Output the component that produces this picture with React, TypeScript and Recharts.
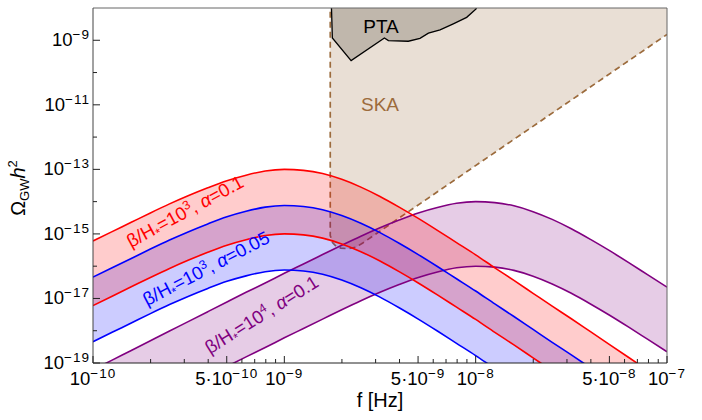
import React from 'react';
import { Area, ComposedChart, Line, ReferenceLine, XAxis, YAxis } from 'recharts';

const WIDTH = 702;
const HEIGHT = 420;
const FONT = '"Liberation Sans", Arial, Helvetica, sans-serif';

// frequency grid, log10(f / Hz)
const logFreq = [
  -10, -9.9, -9.8, -9.7, -9.6, -9.5, -9.4, -9.3, -9.2, -9.1, -9, -8.9, -8.8, -8.7, -8.6, -8.5,
  -8.4, -8.3, -8.2, -8.1, -8, -7.9, -7.8, -7.7, -7.6, -7.5, -7.4, -7.3, -7.2, -7.1, -7,
];

// log10(Omega_GW h^2), one value per logFreq entry
const redUpper = [
  -15.22, -14.93, -14.64, -14.35, -14.07, -13.81, -13.57, -13.35, -13.18, -13.05, -13.0, -13.03,
  -13.13, -13.31, -13.55, -13.84, -14.17, -14.52, -14.89, -15.27, -15.65, -16.05, -16.44, -16.84,
  -17.24, -17.63, -18.03, -18.43, -18.83, -19.23, -19.63,
];
const redLower = [
  -17.22, -16.93, -16.64, -16.35, -16.07, -15.81, -15.57, -15.35, -15.18, -15.05, -15.0, -15.03,
  -15.13, -15.31, -15.55, -15.84, -16.17, -16.52, -16.89, -17.27, -17.65, -18.05, -18.44, -18.84,
  -19.24, -19.63, -20.03, -20.43, -20.83, -21.23, -21.63,
];
const blueUpper = [
  -16.34, -16.05, -15.76, -15.47, -15.19, -14.93, -14.69, -14.47, -14.3, -14.17, -14.12, -14.15,
  -14.25, -14.43, -14.67, -14.96, -15.29, -15.64, -16.01, -16.39, -16.77, -17.17, -17.56, -17.96,
  -18.36, -18.75, -19.15, -19.55, -19.95, -20.35, -20.75,
];
const blueLower = [
  -18.34, -18.05, -17.76, -17.47, -17.19, -16.93, -16.69, -16.47, -16.3, -16.17, -16.12, -16.15,
  -16.25, -16.43, -16.67, -16.96, -17.29, -17.64, -18.01, -18.39, -18.77, -19.17, -19.56, -19.96,
  -20.36, -20.75, -21.15, -21.55, -21.95, -22.35, -22.75,
];
const purpleUpper = [
  -19.21, -18.91, -18.61, -18.31, -18.01, -17.71, -17.41, -17.11, -16.81, -16.52, -16.22, -15.93,
  -15.64, -15.35, -15.07, -14.81, -14.57, -14.35, -14.18, -14.05, -14.0, -14.03, -14.13, -14.31,
  -14.55, -14.84, -15.17, -15.52, -15.89, -16.27, -16.65,
];
const purpleLower = [
  -21.21, -20.91, -20.61, -20.31, -20.01, -19.71, -19.41, -19.11, -18.81, -18.52, -18.22, -17.93,
  -17.64, -17.35, -17.07, -16.81, -16.57, -16.35, -16.18, -16.05, -16.0, -16.03, -16.13, -16.31,
  -16.55, -16.84, -17.17, -17.52, -17.89, -18.27, -18.65,
];

// SKA sensitivity boundary (log10 f, log10 Omega)
const skaLogFreq = [-8.76, -8.76, -8.748, -8.73, -8.705, -8.665, -8.625, -8.59, -7.0];
const skaLogOmega = [-7.5, -15.05, -15.27, -15.38, -15.44, -15.46, -15.41, -15.28, -8.82];

// PTA excluded region, lower edge
const ptaLogFreq = [
  -8.756, -8.749, -8.651, -8.477, -8.456, -8.352, -8.291, -8.247, -8.186, -8.117, -8.047, -7.998, -7.975,
];
const ptaLogOmega = [-7.5, -8.93, -9.63, -8.93, -9.01, -9.03, -8.94, -8.78, -8.68, -8.49, -8.29, -8.03, -7.5];

const xTicks = [
  1e-10, 2e-10, 3e-10, 4e-10, 5e-10, 6e-10, 7e-10, 8e-10, 9e-10,
  1e-9, 2e-9, 3e-9, 4e-9, 5e-9, 6e-9, 7e-9, 8e-9, 9e-9,
  1e-8, 2e-8, 3e-8, 4e-8, 5e-8, 6e-8, 7e-8, 8e-8, 9e-8, 1e-7,
];
const xTickLabels = [1e-10, 5e-10, 1e-9, 5e-9, 1e-8, 5e-8, 1e-7];
const yTicks = [1e-19, 1e-18, 1e-17, 1e-16, 1e-15, 1e-14, 1e-13, 1e-12, 1e-11, 1e-10, 1e-9];
const yTickLabels = [1e-19, 1e-17, 1e-15, 1e-13, 1e-11, 1e-9];

const TOP = 1e-7; // above the frame, clipped away

const spectra = logFreq.map((lf, i) => ({
  f: 10 ** lf,
  red: [10 ** redLower[i], 10 ** redUpper[i]],
  blue: [10 ** blueLower[i], 10 ** blueUpper[i]],
  purple: [10 ** purpleLower[i], 10 ** purpleUpper[i]],
  redHi: 10 ** redUpper[i],
  redLo: 10 ** redLower[i],
  blueHi: 10 ** blueUpper[i],
  blueLo: 10 ** blueLower[i],
  purpleHi: 10 ** purpleUpper[i],
  purpleLo: 10 ** purpleLower[i],
}));

const ska = skaLogFreq.map((lf, i) => ({ f: 10 ** lf, band: [10 ** skaLogOmega[i], TOP] }));
const pta = ptaLogFreq.map((lf, i) => ({ f: 10 ** lf, band: [10 ** ptaLogOmega[i], TOP] }));

function splitPow(v: number) {
  const exp = Math.floor(Math.log10(v) + 1e-9);
  const mant = Math.round(v / 10 ** exp);
  return { mant, exp };
}

const isIn = (list: number[], v: number) => list.some((l) => Math.abs(v / l - 1) < 1e-6);

function Pow({ exp }: { exp: number }) {
  return (
    <tspan dy={-7} fontSize={13.5} letterSpacing={1}>
      {`\u2212${-exp}`}
    </tspan>
  );
}

function FreqTick({ x, y, payload }: any) {
  const v = payload.value as number;
  const labelled = isIn(xTickLabels, v);
  const { mant, exp } = splitPow(v);
  return (
    <g>
      <line x1={x} x2={x} y1={y} y2={y - (labelled ? 7 : 4)} stroke="#222" />
      {labelled && (
        <text x={x} y={y + 22} textAnchor="middle" fontSize={18.5} fontFamily={FONT} fill="#000">
          {mant === 1 ? '10' : `${mant}·10`}
          <Pow exp={exp} />
        </text>
      )}
    </g>
  );
}

function OmegaTick({ x, y, payload }: any) {
  const v = payload.value as number;
  const labelled = isIn(yTickLabels, v);
  const { exp } = splitPow(v);
  return (
    <g>
      <line x1={x} x2={x + (labelled ? 7 : 4)} y1={y} y2={y} stroke="#222" />
      {labelled && (
        <text x={x - 3} y={y + 6} textAnchor="end" fontSize={18.5} fontFamily={FONT} fill="#000">
          10
          <Pow exp={exp} />
        </text>
      )}
    </g>
  );
}

function BandLabel({ x, y, angle, color, beta, alpha }: any) {
  return (
    <text
      transform={`translate(${x},${y}) rotate(${-angle})`}
      textAnchor="middle"
      fontSize={18.5}
      fontFamily={FONT}
      fill={color}
    >
      β/H
      <tspan dy={4} fontSize={12.5}>*</tspan>
      <tspan dy={-4}>=10</tspan>
      <tspan dy={-7} fontSize={12.5}>{beta}</tspan>
      <tspan dy={7}>, </tspan>
      <tspan fontStyle="italic">α</tspan>
      <tspan>={alpha}</tspan>
    </text>
  );
}

export default function App() {
  return (
    <div style={{ position: 'absolute', left: 0, top: 0, width: WIDTH, height: HEIGHT, background: '#fff' }}>
      <ComposedChart width={WIDTH} height={HEIGHT} margin={{ top: 8, right: 35, left: 13, bottom: 0 }}>
        <XAxis
          dataKey="f"
          type="number"
          scale="log"
          domain={[1e-10, 1e-7]}
          allowDataOverflow
          ticks={xTicks}
          interval={0}
          tick={<FreqTick />}
          tickLine={false}
          tickSize={0}
          tickMargin={0}
          axisLine={{ stroke: '#222' }}
          height={57}
        />
        <YAxis
          type="number"
          scale="log"
          domain={[1e-19, 1e-8]}
          allowDataOverflow
          ticks={yTicks}
          interval={0}
          tick={<OmegaTick />}
          tickLine={false}
          tickSize={0}
          tickMargin={0}
          axisLine={{ stroke: '#444' }}
          width={80}
        />
        <Area
          data={ska}
          dataKey="band"
          type="linear"
          fill="#e9dfd5"
          fillOpacity={1}
          stroke="#9c6b3c"
          strokeWidth={1.7}
          strokeDasharray="6 4"
          isAnimationActive={false}
        />
        <Area
          data={pta}
          dataKey="band"
          type="linear"
          fill="#c0b7ac"
          fillOpacity={1}
          stroke="#000"
          strokeWidth={1.3}
          isAnimationActive={false}
        />
        <Area data={spectra} dataKey="purple" type="monotone" fill="#800080" fillOpacity={0.2} stroke="none" isAnimationActive={false} />
        <Area data={spectra} dataKey="blue" type="monotone" fill="#0000ff" fillOpacity={0.2} stroke="none" isAnimationActive={false} />
        <Area data={spectra} dataKey="red" type="monotone" fill="#ff0000" fillOpacity={0.2} stroke="none" isAnimationActive={false} />
        <Line data={spectra} dataKey="purpleHi" type="monotone" stroke="#800080" strokeWidth={1.6} dot={false} isAnimationActive={false} />
        <Line data={spectra} dataKey="purpleLo" type="monotone" stroke="#800080" strokeWidth={1.6} dot={false} isAnimationActive={false} />
        <Line data={spectra} dataKey="blueHi" type="monotone" stroke="#0000ff" strokeWidth={1.6} dot={false} isAnimationActive={false} />
        <Line data={spectra} dataKey="blueLo" type="monotone" stroke="#0000ff" strokeWidth={1.6} dot={false} isAnimationActive={false} />
        <Line data={spectra} dataKey="redHi" type="monotone" stroke="#ff0000" strokeWidth={1.6} dot={false} isAnimationActive={false} />
        <Line data={spectra} dataKey="redLo" type="monotone" stroke="#ff0000" strokeWidth={1.6} dot={false} isAnimationActive={false} />
        <ReferenceLine y={1e-8} stroke="#666" />
        <ReferenceLine x={1e-7} stroke="#666" />
      </ComposedChart>
      <svg
        width={WIDTH}
        height={HEIGHT}
        style={{ position: 'absolute', left: 0, top: 0, pointerEvents: 'none' }}
      >
        <text x={381} y={33} textAnchor="middle" fontSize={19} fontFamily={FONT} fill="#000">PTA</text>
        <text x={380} y={111} textAnchor="middle" fontSize={19} fontFamily={FONT} fill="#9c6b3c">SKA</text>
        <BandLabel x={188} y={217} angle={28.5} color="#ff0000" beta="3" alpha="0.1" />
        <BandLabel x={209} y={274} angle={27.5} color="#0000ff" beta="3" alpha="0.05" />
        <BandLabel x={265} y={320} angle={32} color="#800080" beta="4" alpha="0.1" />
        <text x={380} y={407} textAnchor="middle" fontSize={20} fontFamily={FONT} fill="#000">f [Hz]</text>
        <text transform="translate(25,188) rotate(-90)" textAnchor="middle" fontSize={20} fontFamily={FONT} fill="#000">
          Ω<tspan dy={4} fontSize={13}>GW</tspan>
          <tspan dy={-4} fontStyle="italic">h</tspan>
          <tspan dy={-8} fontSize={13}>2</tspan>
        </text>
      </svg>
    </div>
  );
}
